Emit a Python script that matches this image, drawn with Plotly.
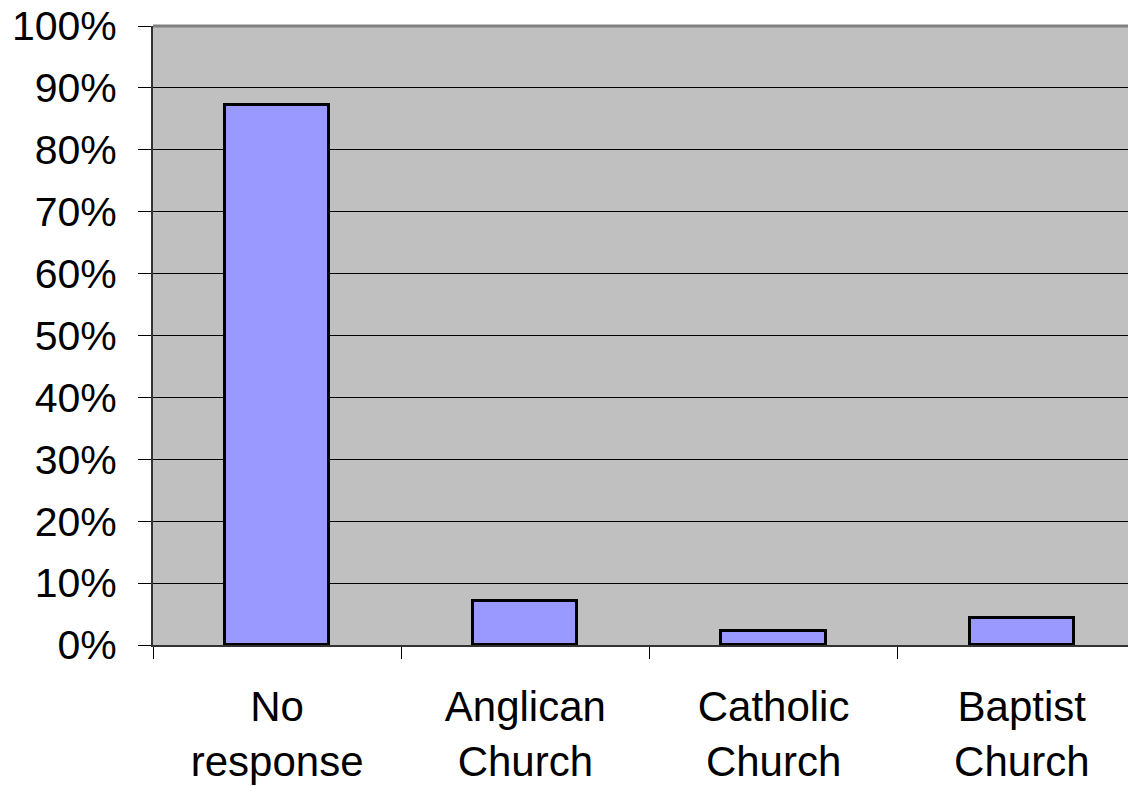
import plotly.graph_objects as go

# Survey responses by church
categories = ['No<br>response', 'Anglican<br>Church', 'Catholic<br>Church', 'Baptist<br>Church']
shares = [0.872, 0.071, 0.023, 0.044]

fig = go.Figure()
fig.add_trace(go.Bar(
    x=categories,
    y=shares,
    width=0.42,
    marker=dict(color='#9999FF', line=dict(color='black', width=3)),
))

# page body adds an 8px margin, so the figure is a bit smaller than the window
fig.update_layout(
    width=1128, height=778,
    margin=dict(l=145, r=0, t=18, b=141, autoexpand=False),
    plot_bgcolor='#C0C0C0',
    paper_bgcolor='white',
    font=dict(family='Liberation Sans, Arial', size=41, color='black'),
    showlegend=False,
    bargap=0,
)

fig.update_xaxes(
    range=[-0.5, 3.46],
    tickson='boundaries',
    ticks='outside', ticklen=12, tickcolor='black', tickwidth=1,
    showline=True, linecolor='#333333', linewidth=2,
    showgrid=False,
    tickfont=dict(size=42),
    ticklabelstandoff=24,
    automargin=False,
)

fig.update_yaxes(
    range=[0, 1],
    dtick=0.1,
    tickformat='.0%',
    ticks='outside', ticklen=13, tickcolor='black', tickwidth=1,
    showline=True, linecolor='#333333', linewidth=2,
    showgrid=True, gridcolor='black', gridwidth=1,
    zeroline=False,
    ticklabelstandoff=13,
    ticklabeloverflow='allow',
    automargin=False,
)

# grey top border of the plot area
fig.add_shape(type='line', xref='paper', yref='paper', x0=0, x1=1, y0=1, y1=1,
              line=dict(color='#808080', width=3))

fig.write_html("out.html")
